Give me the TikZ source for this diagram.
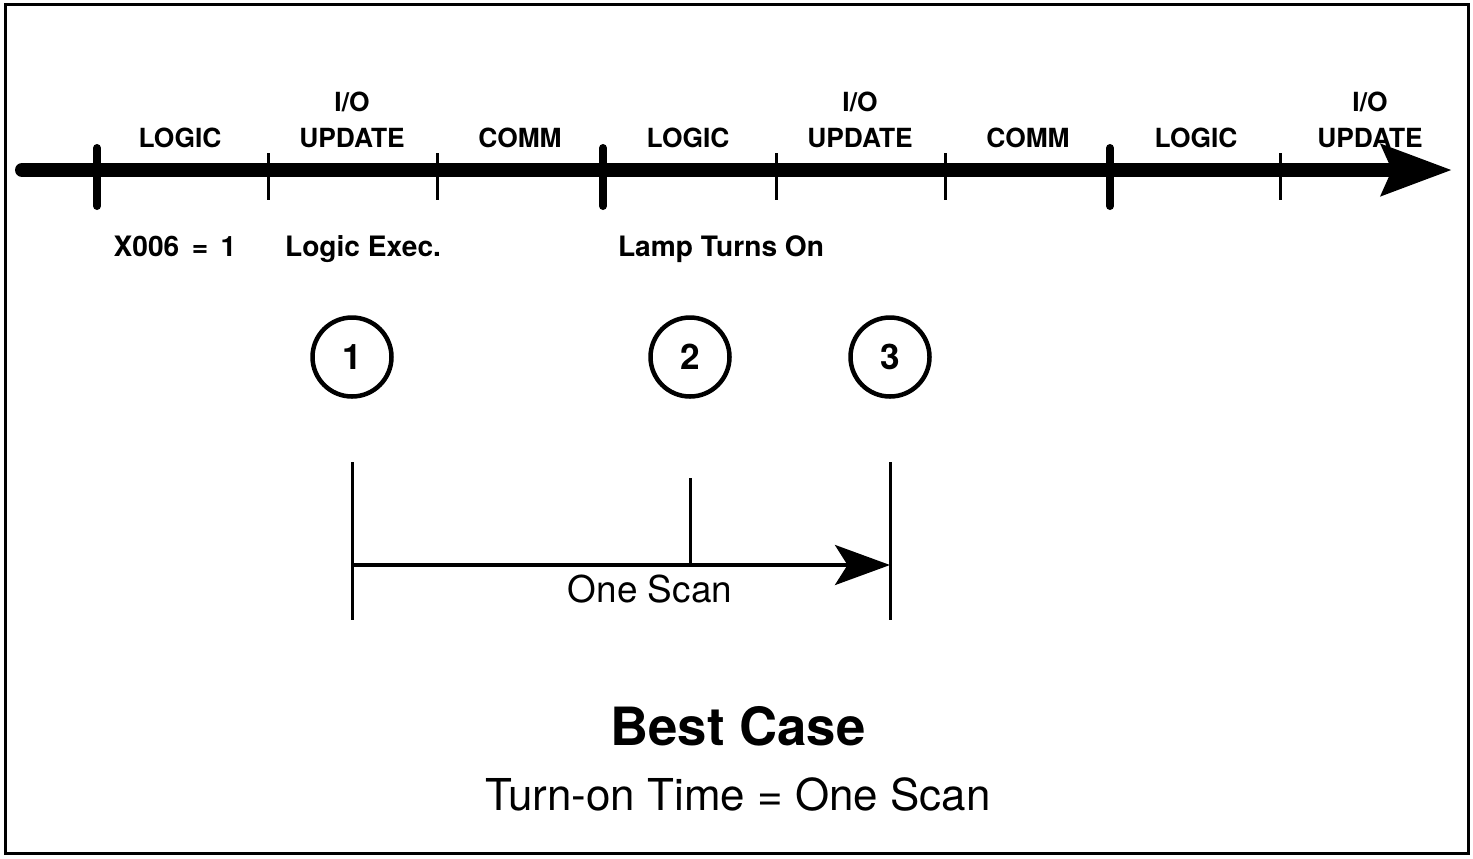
\documentclass[tikz,border=0pt]{standalone}
\usepackage{fontspec}
\setmainfont{TeX Gyre Heros}
\usetikzlibrary{arrows.meta,positioning}

\tikzset{
  seglabel/.style={font=\fontsize{15}{18}\selectfont\bfseries, anchor=base, inner sep=0pt},
  eventlabel/.style={font=\fontsize{16}{19}\selectfont\bfseries, anchor=base, inner sep=0pt},
  stepnum/.style={circle, draw, line width=0.9mm, minimum size=15.8mm, inner sep=0pt,
    font=\fontsize{20}{22}\selectfont\bfseries},
  majortick/.style={line width=1.6mm, line cap=round},
  minortick/.style={line width=0.6mm},
  spanline/.style={line width=0.6mm},
}

\begin{document}
\begin{tikzpicture}[x=0.2mm, y=-0.2mm]
\useasboundingbox (0,0) rectangle (1473,858);
% Frame
\draw[line width=0.6mm] (5,4) rectangle (1468,853);
% Time axis
\coordinate (axstart) at (22,170);
\coordinate (axend) at (1452,170);
\draw[line width=2.8mm, line cap=round, -{Stealth[length=14mm, width=10mm, inset=2mm]}] (axstart) -- (axend);
\foreach \x in {97,603,1110}
  \draw[majortick] (\x,148) -- (\x,206);
\foreach \x in {268,437,776,945,1280}
  \draw[minortick] (\x,153) -- (\x,200);
% Segment labels
\foreach \x/\t [count=\i] in {180/LOGIC, 352/UPDATE, 520/COMM, 688/LOGIC, 860/UPDATE, 1028/COMM, 1196/LOGIC, 1370/UPDATE}
  \node[seglabel] (seg\i) at (\x,147) {\t};
\foreach \i in {2,5,8}
  \node[seglabel, above=3mm of seg\i] (io\i) {I/O};
% Events
\node[eventlabel] (xin) at (175,256) {X006 \,=\, 1};
\node[eventlabel] (exec) at (363,256) {Logic Exec.};
\node[eventlabel] (lamp) at (721,256) {Lamp Turns On};
\node[stepnum] (c1) at (352,357) {1};
\node[stepnum] (c2) at (690,357) {2};
\node[stepnum] (c3) at (890,357) {3};
% One scan span
\coordinate (spantop) at (0,462);
\coordinate (spanbot) at (0,620);
\coordinate (lamptop) at (0,478);
\coordinate (scanrow) at (0,565);
\draw[spanline] (c1 |- spantop) -- (c1 |- spanbot);
\draw[spanline] (c3 |- spantop) -- (c3 |- spanbot);
\draw[spanline] (c2 |- lamptop) -- (c2 |- scanrow);
\draw[line width=0.8mm, -{Stealth[length=11mm, width=8mm, inset=2.5mm]}] (c1 |- scanrow) -- (c3 |- scanrow);
\node[font=\fontsize{21}{24}\selectfont, anchor=base] (onescan) at (650,602) {One Scan};
% Caption
\node[font=\fontsize{30}{34}\selectfont\bfseries, anchor=base] (bestcase) at (738,745) {Best Case};
\node[font=\fontsize{25}{28}\selectfont, anchor=base] (turnon) at (738,810) {Turn-on Time = One Scan};
\end{tikzpicture}
\end{document}
